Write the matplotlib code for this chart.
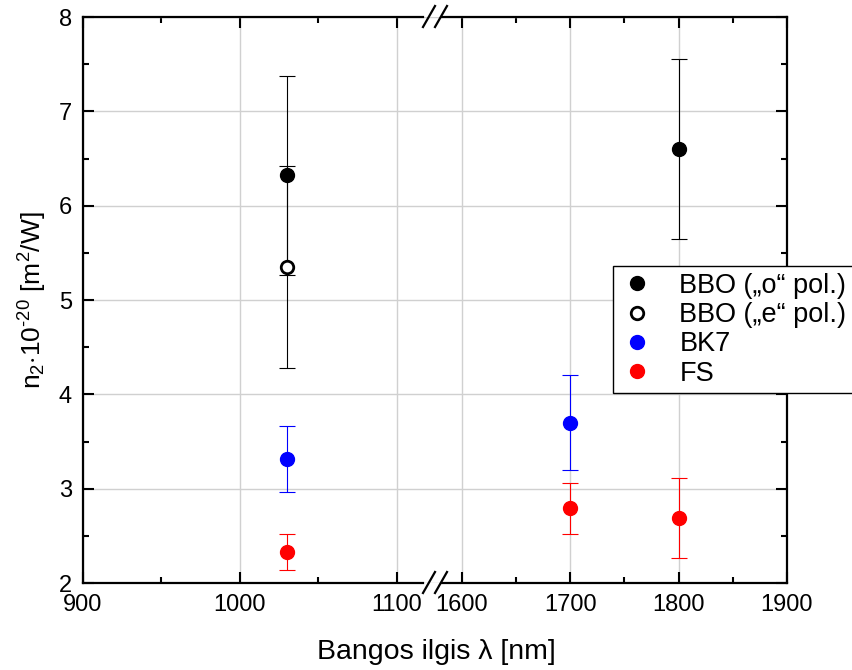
import matplotlib.pyplot as plt
from matplotlib.lines import Line2D
from matplotlib.ticker import MultipleLocator

plt.rcParams.update({
    "font.family": ["Liberation Sans", "DejaVu Sans"],
    "mathtext.fontset": "custom",
    "mathtext.rm": "Liberation Sans",
    "mathtext.it": "Liberation Sans:italic",
    "font.size": 17,
    "axes.linewidth": 1.6,
    "xtick.direction": "in",
    "ytick.direction": "in",
    "xtick.major.size": 8,
    "ytick.major.size": 8,
    "xtick.minor.size": 4.5,
    "ytick.minor.size": 4.5,
    "xtick.major.width": 1.5,
    "ytick.major.width": 1.5,
    "xtick.minor.width": 1.5,
    "ytick.minor.width": 1.5,
})

# n2 values (1e-20 m^2/W) vs wavelength (nm), symmetric errors
bbo_o_x = [1030, 1800]
bbo_o_y = [6.32, 6.60]
bbo_o_err = [1.05, 0.95]

bbo_e_x = [1030]
bbo_e_y = [5.35]
bbo_e_err = [1.07]

bk7_x = [1030, 1700]
bk7_y = [3.31, 3.70]
bk7_err = [0.35, 0.50]

fs_x = [1030, 1700, 1800]
fs_y = [2.33, 2.79, 2.69]
fs_err = [0.19, 0.27, 0.42]

left_ticks = [900, 1000, 1100]
right_ticks = [1600, 1700, 1800, 1900]

W, H = 853, 670
fig = plt.figure(figsize=(W / 100, H / 100), dpi=100)

y0, y1 = 583, 17          # pixel rows of the x axis and the top spine
x0, xb, x1 = 83, 433, 787  # left edge, break, right edge
sl, sr = 1.57, 1.085       # px per nm on each side


def px_box(a, b):
    return [a / W, 1 - y0 / H, (b - a) / W, (y0 - y1) / H]


ax_l = fig.add_axes(px_box(x0, xb))
ax_r = fig.add_axes(px_box(xb, x1), sharey=ax_l)

ax_l.set_xlim(900, 900 + (xb - x0) / sl)
ax_r.set_xlim(1600 - (462 - xb) / sr, 1900)
ax_l.set_ylim(2, 8)

# spines stop short of the break
for s in ("top", "bottom"):
    ax_l.spines[s].set_bounds(900, 900 + (423 - x0) / sl)
    ax_r.spines[s].set_bounds(1600 - (462 - 442) / sr, 1900)

ebar = dict(capsize=6, elinewidth=0.8, capthick=0.8, zorder=3)
for ax in (ax_l, ax_r):
    ax.grid(True, which="major", color="#d0d0d0", linewidth=1.0)
    ax.set_axisbelow(True)
    ax.yaxis.set_major_locator(MultipleLocator(1))
    ax.yaxis.set_minor_locator(MultipleLocator(0.5))
    ax.xaxis.set_minor_locator(MultipleLocator(50))
    ax.tick_params(which="both", top=True, right=True)

    ax.errorbar(bbo_o_x, bbo_o_y, yerr=bbo_o_err, fmt="o", color="black",
                ms=10, **ebar)
    ax.errorbar(bbo_e_x, bbo_e_y, yerr=bbo_e_err, fmt="none", ecolor="black",
                **ebar)
    ax.plot(bbo_e_x, bbo_e_y, "o", mfc="white", mec="black", mew=2, ms=9,
            zorder=4)
    ax.errorbar(bk7_x, bk7_y, yerr=bk7_err, fmt="o", color="#0000ff",
                ms=10, **ebar)
    ax.errorbar(fs_x, fs_y, yerr=fs_err, fmt="o", color="#ff0000",
                ms=10, **ebar)

ax_l.set_xticks(left_ticks)
ax_r.set_xticks(right_ticks)
ax_l.spines["right"].set_visible(False)
ax_r.spines["left"].set_visible(False)
ax_l.tick_params(axis="y", which="both", right=False)
ax_r.tick_params(axis="y", which="both", left=False, labelleft=False)
ax_l.tick_params(axis="x", pad=8)
ax_r.tick_params(axis="x", pad=8)
ax_l.tick_params(axis="y", pad=8)

ax_l.set_ylabel("n$_2$$\\cdot$10$^{\u201020}$ [m$^2$/W]", fontsize=19,
                labelpad=7)
fig.text(436 / W, 1 - 652 / H, "Bangos ilgis λ [nm]", fontsize=20.5,
         ha="center", va="center")

# axis break marks
for yb in (y0, y1):
    for xs in (429, 441):
        fig.add_artist(Line2D([(xs - 6) / W, (xs + 6) / W],
                              [1 - (yb + 10) / H, 1 - (yb - 11) / H],
                              color="black", lw=1.6))

handles = [
    Line2D([], [], ls="none", marker="o", color="black", ms=10),
    Line2D([], [], ls="none", marker="o", mfc="white", mec="black", mew=2, ms=9),
    Line2D([], [], ls="none", marker="o", color="#0000ff", ms=10),
    Line2D([], [], ls="none", marker="o", color="#ff0000", ms=10),
]
labels = ["BBO (\u201eo\u201c pol.)", "BBO (\u201ee\u201c pol.)", "BK7", "FS"]
leg = fig.legend(handles, labels, loc="upper left",
                 bbox_to_anchor=(613 / W, 1 - 266 / H), borderaxespad=0,
                 fontsize=19.5, frameon=True, fancybox=False, framealpha=1,
                 edgecolor="black", labelspacing=0.12, handletextpad=0.9,
                 borderpad=0.25, handlelength=1.3)
leg.get_frame().set_linewidth(1.0)
leg.set_zorder(10)

fig.savefig("out.png", dpi=100)
